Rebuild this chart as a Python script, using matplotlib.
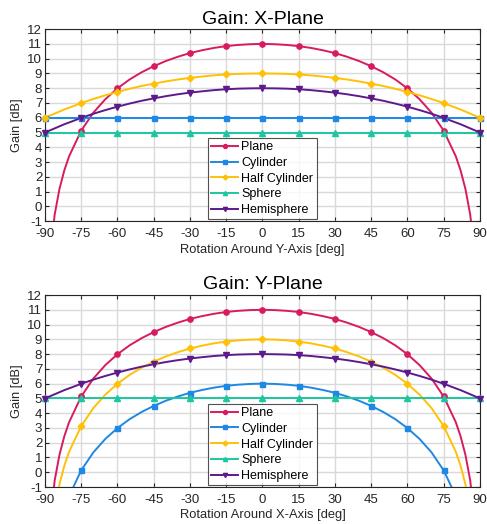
import numpy as np
import matplotlib
matplotlib.use("Agg")
import matplotlib.pyplot as plt

plt.rcParams['font.family'] = ['Liberation Sans', 'DejaVu Sans']
plt.rcParams['axes.unicode_minus'] = False

## Half-profiles (0..90 deg), the curves are symmetric about 0
half_angles = [0, 5, 10, 15, 20, 25, 30, 35, 40, 45, 50, 55, 60, 65, 70, 75, 80, 82, 84, 86, 88, 90]

plane = [11.00, 10.98, 10.93, 10.85, 10.73, 10.57, 10.38, 10.13, 9.84, 9.49, 9.08, 8.59,
         7.99, 7.26, 6.34, 5.13, 3.40, 2.44, 1.19, -0.56, -3.57, np.nan]
cylinder_x = [6.0] * 22
half_cyl_x = [9.00, 8.99, 8.97, 8.93, 8.87, 8.79, 8.70, 8.59, 8.46, 8.31, 8.15, 7.96,
              7.75, 7.52, 7.27, 6.99, 6.68, 6.56, 6.42, 6.28, 6.14, 5.99]
sphere = [5.0] * 22
hemisphere = [8.00, 7.99, 7.97, 7.93, 7.87, 7.79, 7.70, 7.59, 7.46, 7.31, 7.15, 6.96,
              6.75, 6.52, 6.27, 5.99, 5.68, 5.56, 5.42, 5.28, 5.14, 4.99]
cylinder_y = [6.00, 5.98, 5.93, 5.85, 5.73, 5.57, 5.38, 5.13, 4.84, 4.49, 4.08, 3.59,
              2.99, 2.26, 1.34, 0.13, -1.60, -2.56, -3.81, -5.56, -8.57, np.nan]
half_cyl_y = [9.00, 8.98, 8.93, 8.85, 8.73, 8.57, 8.38, 8.13, 7.84, 7.49, 7.08, 6.59,
              5.99, 5.26, 4.34, 3.13, 1.40, 0.44, -0.81, -2.56, -5.57, np.nan]

names = ['Plane', 'Cylinder', 'Half Cylinder', 'Sphere', 'Hemisphere']
colors = ['#d81b60', '#1e88e5', '#ffc107', '#1dc6a0', '#5e1a8c']
markers = ['o', 's', 'D', '^', 'v']
msizes = [3.8, 3.6, 3.4, 4.0, 4.0]
x_ticks = [-90, -75, -60, -45, -30, -15, 0, 15, 30, 45, 60, 75, 90]
y_ticks = list(range(-1, 13))

panels = [
    ("Gain: X-Plane", "Rotation Around Y-Axis [deg]",
     [plane, cylinder_x, half_cyl_x, sphere, hemisphere]),
    ("Gain: Y-Plane", "Rotation Around X-Axis [deg]",
     [plane, cylinder_y, half_cyl_y, sphere, hemisphere]),
]


def mirror(vals):
    a = np.array(half_angles, dtype=float)
    v = np.array(vals, dtype=float)
    return np.concatenate([-a[:0:-1], a]), np.concatenate([v[:0:-1], v])


fig = plt.figure(figsize=(4.87, 5.24), dpi=100)
rects = [[0.0924, 0.578, 0.893, 0.3664], [0.0924, 0.0706, 0.893, 0.3664]]

for rect, (title, xlabel, series) in zip(rects, panels):
    ax = fig.add_axes(rect)
    for name, col, mk, ms, vals in zip(names, colors, markers, msizes, series):
        x, y = mirror(vals)
        ax.plot(x, y, color=col, lw=1.4, zorder=3)
        sel = (np.abs(x) % 15 == 0) & np.isfinite(y)
        ax.plot(x[sel], y[sel], ls='none', marker=mk, ms=ms, color=col, zorder=4, clip_on=False)
        ax.plot([], [], color=col, lw=1.4, marker=mk, ms=ms * 0.75, label=name)
    ax.set_xlim(-90, 90)
    ax.set_ylim(-1, 12)
    ax.set_xticks(x_ticks)
    ax.set_yticks(y_ticks)
    ax.grid(True, color='#d9d9d9', lw=1.0)
    ax.set_axisbelow(True)
    ax.tick_params(direction='in', labelsize=9.5, colors='#262626', length=3,
                   top=True, right=True)
    ax.tick_params(axis='x', pad=5)
    ax.tick_params(axis='y', pad=2)
    for s in ax.spines.values():
        s.set_color('#262626')
        s.set_linewidth(0.8)
    ax.set_title(title, fontsize=14, pad=4)
    ax.set_xlabel(xlabel, fontsize=9.3, color='#262626', labelpad=2.5)
    ax.set_ylabel('Gain [dB]', fontsize=9.3, color='#262626', labelpad=3)
    leg = ax.legend(loc='lower center', fontsize=9, frameon=True, fancybox=False,
                    borderpad=0.25, labelspacing=0.3, handlelength=2.1, handletextpad=0.3,
                    borderaxespad=0.15)
    leg.get_frame().set_edgecolor('#262626')
    leg.get_frame().set_linewidth(0.8)
    leg.set_zorder(5)

fig.savefig('out.png', dpi=100)
